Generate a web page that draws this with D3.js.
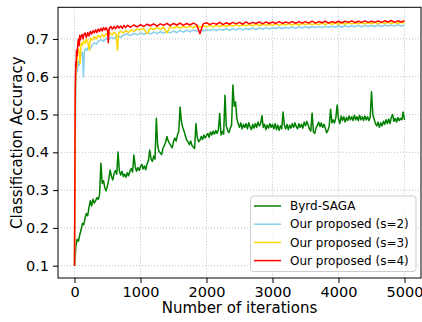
<!DOCTYPE html>
<html><head><meta charset="utf-8">
<script src="https://cdn.jsdelivr.net/npm/d3@7"></script>
<style>body{margin:0;background:#fff}svg{display:block}text{font-family:"DejaVu Sans",sans-serif}</style>
</head><body><div id="chart"></div>
<script>
const xTicks=[0,1000,2000,3000,4000,5000];
const yTicks=[0.1,0.2,0.3,0.4,0.5,0.6,0.7];
const seriesNames=["Byrd-SAGA","Our proposed (s=2)","Our proposed (s=3)","Our proposed (s=4)"];
const seriesColors=["#008000","#87ceeb","#ffd700","#ff0000"];

// [iteration, accuracy]
const byrdSaga=[[0,0.100],[20,0.150],[40,0.170],[60,0.165],[80,0.182],[100,0.195],[120,0.212],[140,0.208],[160,0.226],[180,0.238],[200,0.232],[220,0.255],[240,0.272],[260,0.258],[280,0.276],[300,0.266],[320,0.272],[340,0.280],[360,0.276],[380,0.288],[400,0.371],[420,0.318],[440,0.325],[460,0.305],[480,0.298],[500,0.312],[520,0.330],[540,0.353],[560,0.336],[580,0.327],[600,0.344],[620,0.352],[640,0.342],[660,0.401],[680,0.350],[700,0.340],[720,0.350],[740,0.336],[760,0.342],[780,0.334],[800,0.346],[820,0.338],[840,0.350],[860,0.357],[880,0.348],[900,0.393],[920,0.362],[940,0.350],[960,0.360],[980,0.352],[1000,0.362],[1020,0.368],[1040,0.356],[1060,0.364],[1080,0.354],[1100,0.370],[1120,0.378],[1140,0.406],[1160,0.382],[1180,0.376],[1200,0.390],[1220,0.382],[1240,0.490],[1260,0.418],[1280,0.402],[1300,0.398],[1320,0.394],[1340,0.410],[1360,0.418],[1380,0.426],[1400,0.442],[1420,0.430],[1440,0.424],[1460,0.418],[1480,0.412],[1500,0.428],[1520,0.438],[1540,0.430],[1560,0.446],[1580,0.456],[1600,0.520],[1620,0.482],[1640,0.466],[1660,0.456],[1680,0.444],[1700,0.432],[1720,0.428],[1740,0.420],[1760,0.430],[1780,0.418],[1800,0.414],[1820,0.410],[1840,0.476],[1860,0.440],[1880,0.428],[1900,0.432],[1920,0.442],[1940,0.434],[1960,0.446],[1980,0.438],[2000,0.444],[2020,0.450],[2040,0.440],[2060,0.454],[2080,0.446],[2100,0.456],[2120,0.448],[2140,0.458],[2160,0.450],[2180,0.460],[2200,0.503],[2220,0.446],[2240,0.456],[2260,0.448],[2280,0.551],[2300,0.470],[2320,0.458],[2340,0.452],[2360,0.464],[2380,0.472],[2400,0.578],[2420,0.522],[2440,0.533],[2460,0.490],[2480,0.476],[2500,0.466],[2520,0.478],[2540,0.462],[2560,0.474],[2580,0.466],[2600,0.476],[2620,0.462],[2640,0.478],[2660,0.468],[2680,0.460],[2700,0.474],[2720,0.464],[2740,0.476],[2760,0.466],[2780,0.480],[2800,0.470],[2820,0.476],[2840,0.497],[2860,0.466],[2880,0.474],[2900,0.460],[2920,0.472],[2940,0.464],[2960,0.476],[2980,0.466],[3000,0.474],[3020,0.462],[3040,0.476],[3060,0.460],[3080,0.472],[3100,0.458],[3120,0.470],[3140,0.462],[3160,0.507],[3180,0.472],[3200,0.462],[3220,0.474],[3240,0.460],[3260,0.472],[3280,0.464],[3300,0.476],[3320,0.466],[3340,0.478],[3360,0.468],[3380,0.462],[3400,0.476],[3420,0.466],[3440,0.474],[3460,0.464],[3480,0.480],[3500,0.470],[3520,0.482],[3540,0.472],[3560,0.462],[3580,0.456],[3600,0.504],[3620,0.454],[3640,0.450],[3660,0.464],[3680,0.472],[3700,0.480],[3720,0.468],[3740,0.478],[3760,0.466],[3780,0.474],[3800,0.464],[3820,0.452],[3840,0.458],[3860,0.470],[3880,0.514],[3900,0.478],[3920,0.486],[3940,0.478],[3960,0.492],[3980,0.525],[4000,0.488],[4020,0.476],[4040,0.496],[4060,0.484],[4080,0.494],[4100,0.480],[4120,0.492],[4140,0.484],[4160,0.496],[4180,0.486],[4200,0.494],[4220,0.484],[4240,0.498],[4260,0.486],[4280,0.494],[4300,0.484],[4320,0.498],[4340,0.486],[4360,0.494],[4380,0.484],[4400,0.496],[4420,0.486],[4440,0.494],[4460,0.484],[4480,0.492],[4500,0.560],[4520,0.500],[4540,0.488],[4560,0.476],[4580,0.470],[4600,0.480],[4620,0.466],[4640,0.478],[4660,0.470],[4680,0.482],[4700,0.474],[4720,0.486],[4740,0.476],[4760,0.488],[4780,0.476],[4800,0.492],[4820,0.500],[4840,0.482],[4860,0.490],[4880,0.480],[4900,0.492],[4920,0.484],[4940,0.490],[4960,0.486],[4980,0.507],[5000,0.486]];

const proposedS2=[[0,0.10],[8,0.33],[15,0.50],[25,0.60],[35,0.625],[45,0.615],[55,0.64],[70,0.63],[85,0.66],[100,0.655],[120,0.665],[135,0.600],[150,0.668],[170,0.675],[190,0.670],[210,0.679],[240,0.674],[270,0.684],[300,0.690],[330,0.686],[360,0.694],[400,0.698],[440,0.694],[480,0.702],[520,0.698],[560,0.705],[600,0.701],[650,0.708],[700,0.704],[750,0.711],[800,0.713],[850,0.709],[900,0.715],[950,0.711],[1000,0.716],[1050,0.712],[1100,0.717],[1150,0.713],[1200,0.718],[1250,0.714],[1300,0.719],[1350,0.715],[1400,0.720],[1450,0.716],[1500,0.721],[1550,0.717],[1600,0.722],[1650,0.718],[1700,0.723],[1750,0.719],[1800,0.724],[1850,0.720],[1900,0.724],[1950,0.721],[2000,0.725],[2050,0.722],[2100,0.726],[2150,0.722],[2200,0.726],[2250,0.723],[2300,0.727],[2350,0.723],[2400,0.727],[2450,0.724],[2500,0.728],[2550,0.724],[2600,0.728],[2650,0.725],[2700,0.729],[2750,0.725],[2800,0.729],[2850,0.726],[2900,0.730],[2950,0.726],[3000,0.730],[3050,0.727],[3100,0.731],[3150,0.727],[3200,0.731],[3250,0.728],[3300,0.732],[3350,0.728],[3400,0.732],[3450,0.729],[3500,0.733],[3550,0.729],[3600,0.733],[3650,0.730],[3700,0.733],[3750,0.730],[3800,0.734],[3850,0.731],[3900,0.734],[3950,0.731],[4000,0.735],[4050,0.731],[4100,0.735],[4150,0.732],[4200,0.735],[4250,0.732],[4300,0.736],[4350,0.732],[4400,0.736],[4450,0.733],[4500,0.736],[4550,0.733],[4600,0.737],[4650,0.733],[4700,0.737],[4750,0.734],[4800,0.737],[4850,0.734],[4900,0.738],[4950,0.734],[5000,0.737]];

const proposedS3=[[0,0.10],[8,0.40],[15,0.58],[25,0.64],[35,0.625],[45,0.66],[60,0.675],[75,0.660],[85,0.635],[100,0.690],[120,0.683],[140,0.695],[160,0.688],[180,0.700],[200,0.693],[225,0.670],[240,0.702],[270,0.697],[300,0.706],[330,0.700],[360,0.710],[390,0.704],[420,0.712],[450,0.706],[480,0.714],[510,0.708],[540,0.716],[570,0.711],[600,0.718],[630,0.713],[650,0.670],[670,0.716],[700,0.720],[740,0.716],[780,0.722],[820,0.717],[860,0.724],[900,0.720],[950,0.726],[1000,0.724],[1050,0.728],[1100,0.714],[1150,0.729],[1200,0.725],[1250,0.730],[1300,0.726],[1350,0.731],[1400,0.716],[1450,0.732],[1500,0.728],[1550,0.733],[1600,0.729],[1650,0.733],[1700,0.730],[1750,0.734],[1800,0.730],[1850,0.735],[1900,0.731],[1950,0.735],[2000,0.732],[2050,0.736],[2100,0.732],[2150,0.736],[2200,0.733],[2250,0.737],[2300,0.733],[2350,0.737],[2400,0.734],[2450,0.738],[2500,0.734],[2550,0.738],[2600,0.735],[2650,0.738],[2700,0.735],[2750,0.739],[2800,0.735],[2850,0.739],[2900,0.736],[2950,0.739],[3000,0.736],[3050,0.740],[3100,0.736],[3150,0.740],[3200,0.737],[3250,0.740],[3300,0.737],[3350,0.741],[3400,0.737],[3450,0.741],[3500,0.738],[3550,0.741],[3600,0.738],[3650,0.741],[3700,0.738],[3750,0.742],[3800,0.738],[3850,0.742],[3900,0.739],[3950,0.742],[4000,0.739],[4050,0.742],[4100,0.739],[4150,0.743],[4200,0.740],[4250,0.743],[4300,0.740],[4350,0.743],[4400,0.740],[4450,0.743],[4500,0.740],[4550,0.744],[4600,0.740],[4650,0.744],[4700,0.741],[4750,0.744],[4800,0.741],[4850,0.744],[4900,0.741],[4950,0.744],[5000,0.742]];

const proposedS4=[[0,0.10],[5,0.30],[10,0.547],[15,0.60],[20,0.64],[25,0.626],[30,0.67],[40,0.655],[50,0.688],[60,0.700],[70,0.682],[80,0.710],[90,0.698],[100,0.706],[120,0.712],[130,0.700],[140,0.710],[160,0.716],[180,0.704],[200,0.717],[220,0.708],[240,0.720],[260,0.713],[280,0.722],[300,0.716],[320,0.724],[340,0.717],[360,0.726],[380,0.720],[400,0.728],[420,0.721],[440,0.730],[460,0.724],[480,0.730],[500,0.722],[512,0.690],[525,0.728],[550,0.733],[575,0.726],[600,0.733],[625,0.727],[650,0.735],[675,0.729],[700,0.734],[725,0.728],[750,0.736],[775,0.730],[800,0.736],[850,0.731],[900,0.737],[950,0.732],[1000,0.738],[1050,0.733],[1100,0.739],[1150,0.735],[1200,0.740],[1250,0.734],[1300,0.740],[1350,0.736],[1400,0.741],[1450,0.735],[1500,0.741],[1550,0.737],[1600,0.742],[1650,0.736],[1700,0.741],[1750,0.737],[1800,0.742],[1850,0.738],[1900,0.714],[1950,0.740],[2000,0.743],[2050,0.738],[2100,0.742],[2150,0.739],[2200,0.744],[2250,0.738],[2300,0.743],[2350,0.739],[2400,0.744],[2450,0.740],[2500,0.744],[2550,0.739],[2600,0.745],[2650,0.740],[2700,0.744],[2750,0.741],[2800,0.745],[2850,0.740],[2900,0.745],[2950,0.741],[3000,0.745],[3050,0.741],[3100,0.746],[3150,0.741],[3200,0.745],[3250,0.742],[3300,0.746],[3350,0.741],[3400,0.746],[3450,0.742],[3500,0.746],[3550,0.742],[3600,0.747],[3650,0.742],[3700,0.746],[3750,0.743],[3800,0.747],[3850,0.742],[3900,0.746],[3950,0.743],[4000,0.747],[4050,0.743],[4100,0.747],[4150,0.744],[4200,0.748],[4250,0.743],[4300,0.747],[4350,0.744],[4400,0.748],[4450,0.744],[4500,0.747],[4550,0.744],[4600,0.748],[4650,0.744],[4700,0.748],[4750,0.745],[4800,0.749],[4850,0.744],[4900,0.748],[4950,0.745],[5000,0.748]];

const W=422,H=322;
const m={left:58,right:421,top:7.3,bottom:278};
const svg=d3.select("#chart").append("svg").attr("width",W).attr("height",H);
const x=d3.scaleLinear().domain([-250,5250]).range([m.left,m.right]);
const y=d3.scaleLinear().domain([0.0674,0.7838]).range([m.bottom,m.top]);

const g=svg.append("g");
g.selectAll(".gx").data(xTicks).join("line")
 .attr("x1",d=>x(d)).attr("x2",d=>x(d)).attr("y1",m.top).attr("y2",m.bottom)
 .attr("stroke","#b0b0b0").attr("stroke-width",0.8).attr("stroke-dasharray","1,2");
g.selectAll(".gy").data(yTicks).join("line")
 .attr("y1",d=>y(d)).attr("y2",d=>y(d)).attr("x1",m.left).attr("x2",m.right)
 .attr("stroke","#b0b0b0").attr("stroke-width",0.8).attr("stroke-dasharray","1,2");

const series=[byrdSaga,proposedS2,proposedS3,proposedS4];
const line=d3.line().x(d=>x(d[0])).y(d=>y(d[1]));
series.forEach((s,i)=>{
  svg.append("path").datum(s).attr("d",line).attr("fill","none")
   .attr("stroke",seriesColors[i]).attr("stroke-width",1.5).attr("stroke-linejoin","round");
});

const xa=svg.append("g").attr("transform",`translate(0,${m.bottom})`)
 .call(d3.axisBottom(x).tickValues(xTicks).tickFormat(d3.format("d")).tickSize(5).tickPadding(4));
const ya=svg.append("g").attr("transform",`translate(${m.left},0)`)
 .call(d3.axisLeft(y).tickValues(yTicks).tickFormat(d3.format(".1f")).tickSize(5).tickPadding(4));
[xa,ya].forEach(a=>{a.select(".domain").remove();a.selectAll("text").attr("font-size",14.5).attr("fill","#000").attr("font-family","DejaVu Sans");a.selectAll("line").attr("stroke","#000");});

svg.append("rect").attr("x",m.left).attr("y",m.top).attr("width",m.right-m.left).attr("height",m.bottom-m.top)
 .attr("fill","none").attr("stroke","#000").attr("stroke-width",1);

svg.append("text").attr("x",(m.left+m.right)/2).attr("y",313).attr("text-anchor","middle")
 .attr("font-size",15).text("Number of iterations");
svg.append("text").attr("transform",`translate(22,${(m.top+m.bottom)/2}) rotate(-90)`).attr("text-anchor","middle")
 .attr("font-size",15).text("Classification Accuracy");

const lg=svg.append("g");
lg.append("rect").attr("x",250.5).attr("y",196).attr("width",165.5).attr("height",75.5).attr("rx",3)
 .attr("fill","#fff").attr("fill-opacity",0.8).attr("stroke","#cccccc").attr("stroke-width",1);
seriesNames.forEach((n,i)=>{
  const yy=206+i*18.2;
  lg.append("line").attr("x1",254).attr("x2",281).attr("y1",yy).attr("y2",yy)
   .attr("stroke",seriesColors[i]).attr("stroke-width",1.5);
  lg.append("text").attr("x",290).attr("y",yy).attr("dy","0.35em").attr("font-size",12).text(n);
});
</script></body></html>
